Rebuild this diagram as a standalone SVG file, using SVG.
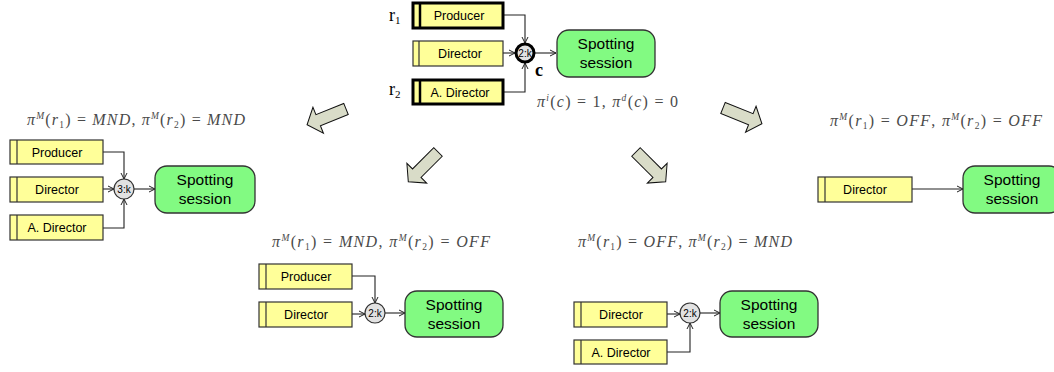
<svg xmlns="http://www.w3.org/2000/svg" width="1054" height="372" viewBox="0 0 1054 372">
<defs>
<marker id="ah" markerWidth="8" markerHeight="8" refX="7" refY="4" orient="auto" markerUnits="userSpaceOnUse">
<path d="M1,1 L7,4 L1,7" fill="none" stroke="#222" stroke-width="1"/>
</marker>
<path id="barrow" d="M0,-6 L30,-6 L30,-14 L42,0 L30,14 L30,6 L0,6 Z"/>
</defs>
<style>
.box{fill:#ffff99;stroke:#333;stroke-width:1.2}
.boxb{fill:#ffff99;stroke:#000;stroke-width:3}
.stripe{stroke:#333;stroke-width:1.2}
.stripeb{stroke:#000;stroke-width:2.5}
.lbl{font-family:"Liberation Sans",Arial,sans-serif;font-size:12.5px;fill:#000;text-anchor:middle}
.ses{fill:#82fa82;stroke:#333;stroke-width:1.3}
.slbl{font-family:"Liberation Sans",Arial,sans-serif;font-size:15.5px;fill:#000;text-anchor:middle}
.gate{fill:#e2e2e2;stroke:#333;stroke-width:1.2}
.gateb{fill:#e2e2e2;stroke:#000;stroke-width:3}
.glbl{font-family:"Liberation Sans",Arial,sans-serif;font-size:10px;fill:#000;text-anchor:middle}
.con{fill:none;stroke:#222;stroke-width:1.1;marker-end:url(#ah)}
.fx{font-family:"Liberation Serif","Times New Roman",serif;font-size:16px;fill:#4a4a4a}
.it{font-style:italic}
.sm{font-size:9.5px}
.ba{fill:#d9dcc8;stroke:#111;stroke-width:1}
.rl{font-family:"Liberation Serif","Times New Roman",serif;font-size:18px;fill:#000}
</style>

<!-- block arrows -->
<g id="arrows">
<use href="#barrow" class="ba" transform="translate(346,109) rotate(158)"/>
<use href="#barrow" class="ba" transform="translate(438,152) rotate(135)"/>
<use href="#barrow" class="ba" transform="translate(636,152) rotate(45)"/>
<use href="#barrow" class="ba" transform="translate(723,108) rotate(22)"/>
</g>

<!-- connectors -->
<g id="connectors">
<path class="con" d="M503,15 H525 V43"/>
<path class="con" d="M503,53 H515"/>
<path class="con" d="M503,92 H525 V63"/>
<path class="con" d="M534,53 H556"/>

<path class="con" d="M103,152 H124 V179"/>
<path class="con" d="M103,189 H114"/>
<path class="con" d="M103,228 H124 V199"/>
<path class="con" d="M134,189 H155"/>

<path class="con" d="M352,276 H375 V303"/>
<path class="con" d="M352,314 H365"/>
<path class="con" d="M385,313 H405"/>

<path class="con" d="M667,314 H680"/>
<path class="con" d="M667,352 H690 V323"/>
<path class="con" d="M700,313 H720"/>

<path class="con" d="M912,189 H963"/>
</g>

<!-- top diagram -->
<g id="top-producer">
<rect class="boxb" x="413" y="3" width="90" height="25"/>
<line class="stripeb" x1="420" y1="3" x2="420" y2="28"/>
<text class="lbl" x="459" y="20">Producer</text>
</g>
<g id="top-director">
<rect class="box" x="413" y="41" width="90" height="25"/>
<line class="stripe" x1="419" y1="41" x2="419" y2="66"/>
<text class="lbl" x="460" y="58">Director</text>
</g>
<g id="top-adirector">
<rect class="boxb" x="413" y="80" width="90" height="24"/>
<line class="stripeb" x1="420" y1="80" x2="420" y2="104"/>
<text class="lbl" x="460" y="97">A. Director</text>
</g>
<g id="top-gate">
<circle class="gateb" cx="525" cy="53" r="9"/>
<text class="glbl" x="525" y="56.5">2:k</text>
</g>
<g id="top-session">
<rect class="ses" x="557" y="30" width="98" height="47" rx="12"/>
<text class="slbl" x="606" y="49">Spotting</text>
<text class="slbl" x="606" y="68">session</text>
</g>
<g id="top-labels">
<text class="rl" x="389" y="21">r<tspan font-size="11" dy="3">1</tspan></text>
<text class="rl" x="389" y="95">r<tspan font-size="11" dy="3">2</tspan></text>
<text class="rl" x="535" y="76" font-size="16" font-weight="bold">c</text>
<text class="fx" x="537" y="107" textLength="141" lengthAdjust="spacing"><tspan class="it">π</tspan><tspan class="sm it" dy="-6">i</tspan><tspan dy="6">(</tspan><tspan class="it">c</tspan>) = 1, <tspan class="it">π</tspan><tspan class="sm it" dy="-6">d</tspan><tspan dy="6">(</tspan><tspan class="it">c</tspan>) = 0</text>
</g>

<!-- left diagram -->
<g id="l-formula">
<text class="fx" x="27" y="125" textLength="218" lengthAdjust="spacing"><tspan class="it">π</tspan><tspan class="sm it" dy="-6">M</tspan><tspan dy="6">(</tspan><tspan class="it">r</tspan><tspan class="sm" dy="3">1</tspan><tspan dy="-3">) = </tspan><tspan class="it">MND</tspan>, <tspan class="it">π</tspan><tspan class="sm it" dy="-6">M</tspan><tspan dy="6">(</tspan><tspan class="it">r</tspan><tspan class="sm" dy="3">2</tspan><tspan dy="-3">) = </tspan><tspan class="it">MND</tspan></text>
</g>
<g id="l-producer">
<rect class="box" x="10" y="140" width="93" height="24"/>
<line class="stripe" x1="17" y1="140" x2="17" y2="164"/>
<text class="lbl" x="57" y="157">Producer</text>
</g>
<g id="l-director">
<rect class="box" x="10" y="177" width="93" height="25"/>
<line class="stripe" x1="17" y1="177" x2="17" y2="202"/>
<text class="lbl" x="57" y="194">Director</text>
</g>
<g id="l-adirector">
<rect class="box" x="10" y="215" width="93" height="25"/>
<line class="stripe" x1="17" y1="215" x2="17" y2="240"/>
<text class="lbl" x="57" y="232">A. Director</text>
</g>
<g id="l-gate">
<circle class="gate" cx="124" cy="189" r="10"/>
<text class="glbl" x="124" y="192.5">3:k</text>
</g>
<g id="l-session">
<rect class="ses" x="155" y="166" width="100" height="47" rx="12"/>
<text class="slbl" x="205" y="185">Spotting</text>
<text class="slbl" x="205" y="204">session</text>
</g>

<!-- center-left diagram -->
<g id="cl-formula">
<text class="fx" x="272" y="247" textLength="218" lengthAdjust="spacing"><tspan class="it">π</tspan><tspan class="sm it" dy="-6">M</tspan><tspan dy="6">(</tspan><tspan class="it">r</tspan><tspan class="sm" dy="3">1</tspan><tspan dy="-3">) = </tspan><tspan class="it">MND</tspan>, <tspan class="it">π</tspan><tspan class="sm it" dy="-6">M</tspan><tspan dy="6">(</tspan><tspan class="it">r</tspan><tspan class="sm" dy="3">2</tspan><tspan dy="-3">) = </tspan><tspan class="it">OFF</tspan></text>
</g>
<g id="cl-producer">
<rect class="box" x="259" y="264" width="93" height="25"/>
<line class="stripe" x1="266" y1="264" x2="266" y2="289"/>
<text class="lbl" x="306" y="281">Producer</text>
</g>
<g id="cl-director">
<rect class="box" x="259" y="302" width="93" height="25"/>
<line class="stripe" x1="266" y1="302" x2="266" y2="327"/>
<text class="lbl" x="306" y="319">Director</text>
</g>
<g id="cl-gate">
<circle class="gate" cx="375" cy="313" r="10"/>
<text class="glbl" x="375" y="316.5">2:k</text>
</g>
<g id="cl-session">
<rect class="ses" x="405" y="291" width="98" height="46" rx="12"/>
<text class="slbl" x="454" y="310">Spotting</text>
<text class="slbl" x="454" y="329">session</text>
</g>

<!-- center-right diagram -->
<g id="cr-formula">
<text class="fx" x="578" y="247" textLength="214" lengthAdjust="spacing"><tspan class="it">π</tspan><tspan class="sm it" dy="-6">M</tspan><tspan dy="6">(</tspan><tspan class="it">r</tspan><tspan class="sm" dy="3">1</tspan><tspan dy="-3">) = </tspan><tspan class="it">OFF</tspan>, <tspan class="it">π</tspan><tspan class="sm it" dy="-6">M</tspan><tspan dy="6">(</tspan><tspan class="it">r</tspan><tspan class="sm" dy="3">2</tspan><tspan dy="-3">) = </tspan><tspan class="it">MND</tspan></text>
</g>
<g id="cr-director">
<rect class="box" x="574" y="302" width="93" height="25"/>
<line class="stripe" x1="581" y1="302" x2="581" y2="327"/>
<text class="lbl" x="621" y="319">Director</text>
</g>
<g id="cr-adirector">
<rect class="box" x="574" y="340" width="93" height="24"/>
<line class="stripe" x1="581" y1="340" x2="581" y2="364"/>
<text class="lbl" x="621" y="357">A. Director</text>
</g>
<g id="cr-gate">
<circle class="gate" cx="690" cy="313" r="10"/>
<text class="glbl" x="690" y="316.5">2:k</text>
</g>
<g id="cr-session">
<rect class="ses" x="720" y="291" width="98" height="46" rx="12"/>
<text class="slbl" x="769" y="310">Spotting</text>
<text class="slbl" x="769" y="329">session</text>
</g>

<!-- right diagram -->
<g id="r-formula">
<text class="fx" x="830" y="126" textLength="212" lengthAdjust="spacing"><tspan class="it">π</tspan><tspan class="sm it" dy="-6">M</tspan><tspan dy="6">(</tspan><tspan class="it">r</tspan><tspan class="sm" dy="3">1</tspan><tspan dy="-3">) = </tspan><tspan class="it">OFF</tspan>, <tspan class="it">π</tspan><tspan class="sm it" dy="-6">M</tspan><tspan dy="6">(</tspan><tspan class="it">r</tspan><tspan class="sm" dy="3">2</tspan><tspan dy="-3">) = </tspan><tspan class="it">OFF</tspan></text>
</g>
<g id="r-director">
<rect class="box" x="818" y="177" width="94" height="25"/>
<line class="stripe" x1="825" y1="177" x2="825" y2="202"/>
<text class="lbl" x="865" y="194">Director</text>
</g>
<g id="r-session">
<rect class="ses" x="963" y="166" width="98" height="47" rx="12"/>
<text class="slbl" x="1012" y="185">Spotting</text>
<text class="slbl" x="1012" y="204">session</text>
</g>
</svg>
